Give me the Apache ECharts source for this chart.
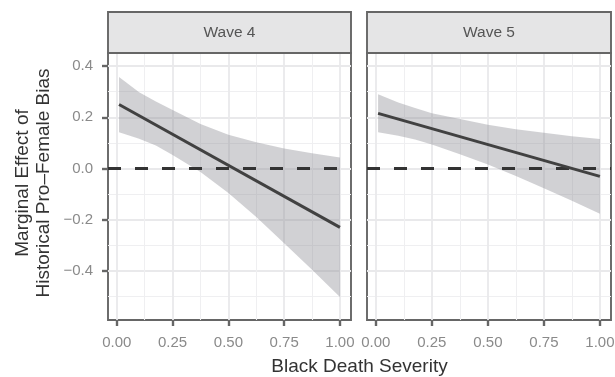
<!DOCTYPE html>
<html>
<head>
<meta charset="utf-8">
<script src="https://cdn.jsdelivr.net/npm/echarts@6/dist/echarts.min.js"></script>
<style>
html,body{margin:0;padding:0;background:#fff;}
#chart{width:615px;height:377px;}
</style>
</head>
<body>
<div id="chart"></div>
<script>
// ---- data ----
const panels = ['Wave 4', 'Wave 5'];
const xTicks = [0, 0.25, 0.5, 0.75, 1];
const xMinor = [0.125, 0.375, 0.625, 0.875];
const yTicks = [-0.4, -0.2, 0, 0.2, 0.4];
const yMinor = [-0.5, -0.3, -0.1, 0.1, 0.3];

const bandX  = [0.01, 0.1, 0.175, 0.25, 0.375, 0.5, 0.625, 0.75, 0.875, 1.0];
const upper4 = [0.357, 0.298, 0.262, 0.228, 0.174, 0.132, 0.102, 0.078, 0.059, 0.043];
const lower4 = [0.141, 0.116, 0.090, 0.053, -0.014, -0.096, -0.190, -0.292, -0.396, -0.502];
const upper5 = [0.290, 0.258, 0.236, 0.216, 0.193, 0.171, 0.153, 0.139, 0.126, 0.115];
const lower5 = [0.141, 0.128, 0.113, 0.094, 0.055, 0.015, -0.029, -0.077, -0.126, -0.177];

const lineX = [0.01, 1.0];
const est4 = [0.250, -0.230];
const est5 = [0.215, -0.031];

const xRange = [-0.0395, 1.0495];
const yRange = [-0.592, 0.451];

// ---- layout ----
const gridBoxes = [
  {left: 108, top: 53, width: 243, height: 267},
  {left: 367, top: 53, width: 244, height: 267}
];
const fontFam = '"Liberation Sans", Arial, Helvetica, sans-serif';

const chart = echarts.init(document.getElementById('chart'), null, {renderer: 'canvas'});

const grids = gridBoxes.map(b => ({
  left: b.left, top: b.top, width: b.width, height: b.height,
  show: true, backgroundColor: '#ffffff', borderColor: '#666666', borderWidth: 1.9,
  containLabel: false, outerBoundsMode: 'none'
}));

const xAxes = [], yAxes = [];
gridBoxes.forEach((b, i) => {
  xAxes.push({
    type: 'value', gridIndex: i, min: xRange[0], max: xRange[1], position: 'bottom',
    axisLine: {show: false, onZero: false},
    axisTick: {show: true, customValues: xTicks, length: 6, lineStyle: {color: '#666666', width: 2.4}},
    axisLabel: {show: true, customValues: xTicks, margin: 15, color: '#8a8a8a', fontSize: 15,
      fontFamily: fontFam, formatter: v => Number(v).toFixed(2)},
    splitLine: {show: true, lineStyle: {color: '#e9e9eb', width: 1.8}}
  });
  xAxes.push({
    type: 'value', gridIndex: i, min: xRange[0], max: xRange[1], position: 'bottom',
    axisLine: {show: false, onZero: false},
    axisTick: {show: false, customValues: xMinor},
    axisLabel: {show: false, customValues: xMinor},
    splitLine: {show: true, lineStyle: {color: '#efeff1', width: 1.1}}
  });
  yAxes.push({
    type: 'value', gridIndex: i, min: yRange[0], max: yRange[1], position: 'left',
    axisLine: {show: false, onZero: false},
    axisTick: {show: i === 0, customValues: yTicks, length: 6, lineStyle: {color: '#666666', width: 2.4}},
    axisLabel: {show: i === 0, customValues: yTicks, margin: 15, color: '#8a8a8a', fontSize: 15,
      fontFamily: fontFam, formatter: v => (v < 0 ? '\u2212' : '') + Math.abs(v).toFixed(1)},
    splitLine: {show: true, lineStyle: {color: '#e9e9eb', width: 1.8}}
  });
  yAxes.push({
    type: 'value', gridIndex: i, min: yRange[0], max: yRange[1], position: 'left',
    axisLine: {show: false, onZero: false},
    axisTick: {show: false, customValues: yMinor},
    axisLabel: {show: false, customValues: yMinor},
    splitLine: {show: true, lineStyle: {color: '#efeff1', width: 1.1}}
  });
});

function bandSeries(idx, up, lo) {
  return {
    type: 'custom', xAxisIndex: idx * 2, yAxisIndex: idx * 2, silent: true, z: 2,
    clip: true,
    data: [[bandX[0], up[0]]],
    renderItem: (params, api) => {
      const pts = [];
      for (let k = 0; k < bandX.length; k++) pts.push(api.coord([bandX[k], up[k]]));
      for (let k = bandX.length - 1; k >= 0; k--) pts.push(api.coord([bandX[k], lo[k]]));
      return {type: 'polygon', shape: {points: pts}, style: {fill: 'rgba(140,140,148,0.40)'}};
    }
  };
}
function zeroSeries(idx) {
  return {
    type: 'line', xAxisIndex: idx * 2, yAxisIndex: idx * 2, silent: true, z: 3,
    symbol: 'none', animation: false,
    data: [[xRange[0], 0], [xRange[1], 0]],
    lineStyle: {color: '#333333', width: 3, type: [13, 14]}
  };
}
function estSeries(idx, est) {
  return {
    type: 'line', xAxisIndex: idx * 2, yAxisIndex: idx * 2, silent: true, z: 4,
    symbol: 'none', animation: false,
    data: lineX.map((x, k) => [x, est[k]]),
    lineStyle: {color: '#414141', width: 3, cap: 'butt'}
  };
}

const graphics = [];
gridBoxes.forEach((b, i) => {
  graphics.push({
    type: 'rect', shape: {x: b.left, y: 12, width: b.width, height: 41},
    style: {fill: '#e5e5e6', stroke: '#666666', lineWidth: 1.9}, z: 10
  });
  graphics.push({
    type: 'text', x: b.left + b.width / 2, y: 33, z: 11,
    style: {text: panels[i], fill: '#555555', fontSize: 15.5, fontFamily: fontFam,
      align: 'center', verticalAlign: 'middle'}
  });
});
graphics.push({
  type: 'text', x: 359.5, y: 367, z: 11,
  style: {text: 'Black Death Severity', fill: '#333333', fontSize: 19, fontFamily: fontFam,
    align: 'center', verticalAlign: 'middle'}
});
graphics.push({
  type: 'text', x: 33, y: 183, rotation: Math.PI / 2, z: 11,
  style: {text: 'Marginal Effect of\nHistorical Pro\u2013Female Bias', fill: '#333333', fontSize: 19,
    lineHeight: 21, fontFamily: fontFam, align: 'center', verticalAlign: 'middle'}
});

chart.setOption({
  animation: false,
  backgroundColor: '#ffffff',
  grid: grids,
  xAxis: xAxes,
  yAxis: yAxes,
  series: [
    bandSeries(0, upper4, lower4), zeroSeries(0), estSeries(0, est4),
    bandSeries(1, upper5, lower5), zeroSeries(1), estSeries(1, est5)
  ],
  graphic: graphics
});
</script>
</body>
</html>
